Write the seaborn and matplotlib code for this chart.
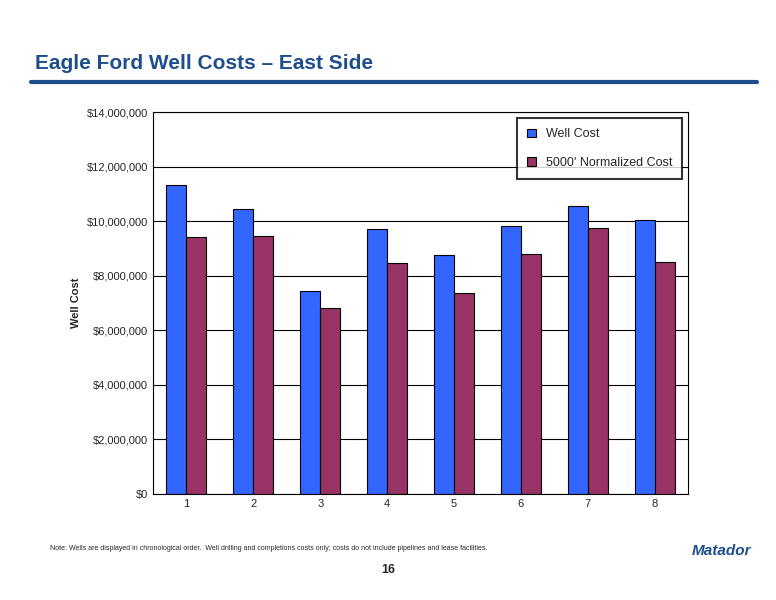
import matplotlib
matplotlib.use("Agg")
import matplotlib.pyplot as plt
import seaborn as sns
import pandas as pd
from matplotlib.ticker import FuncFormatter

wells = ["1", "2", "3", "4", "5", "6", "7", "8"]
well_cost = [11320000, 10440000, 7440000, 9710000, 8760000, 9820000, 10550000, 10040000]
normalized_cost = [9420000, 9450000, 6820000, 8460000, 7370000, 8790000, 9750000, 8500000]
series_names = ["Well Cost", "5000' Normalized Cost"]

df = pd.DataFrame({
    "Well": wells * 2,
    "Cost": well_cost + normalized_cost,
    "Series": [series_names[0]] * len(wells) + [series_names[1]] * len(wells),
})

sns.set_style("white")
plt.rcParams['font.family'] = ['Liberation Sans', 'DejaVu Sans']
fig = plt.figure(figsize=(7.76, 6), dpi=100)
ax = fig.add_axes([0.197, 0.177, 0.69, 0.636])
sns.barplot(data=df, x="Well", y="Cost", hue="Series", ax=ax,
            palette=["#3366ff", "#993366"], saturation=1, edgecolor="black", linewidth=0.8,
            width=0.6, gap=0.0)
ax.set_ylim(0, 14000000)
ax.set_yticks(range(0, 14000001, 2000000))
ax.yaxis.set_major_formatter(FuncFormatter(lambda v, p: f"${v:,.0f}"))
ax.yaxis.grid(True, color="black", linewidth=0.8)
ax.set_axisbelow(True)
for s in ax.spines.values():
    s.set_color("black"); s.set_linewidth(0.8)
ax.tick_params(labelsize=8, length=0)
ax.set_xlabel("")
ax.set_ylabel("Well Cost", fontsize=8, fontweight="bold")
leg = ax.legend(loc="upper right", fontsize=9, frameon=True, fancybox=False,
                edgecolor="black", borderpad=0.8, labelspacing=1.3, handlelength=0.7,
                handleheight=0.7)
leg.get_frame().set_linewidth(1.5)

fig.text(0.045, 0.885, "Eagle Ford Well Costs – East Side", fontsize=15, fontweight="bold", color="#1f4e8c")
fig.add_artist(plt.Line2D([0.04, 0.975], [0.863, 0.863], color="#1f4e8c", linewidth=3))
fig.text(0.065, 0.083, "Note: Wells are displayed in chronological order.  Well drilling and completions costs only; costs do not include pipelines and lease facilities.", fontsize=5)
fig.text(0.5, 0.045, "16", fontsize=9, fontweight="bold", ha="center")
fig.text(0.93, 0.075, "Matador", fontsize=11, fontweight="bold", fontstyle="italic", color="#1f4e8c", ha="center")
fig.savefig("out.png", dpi=100)
